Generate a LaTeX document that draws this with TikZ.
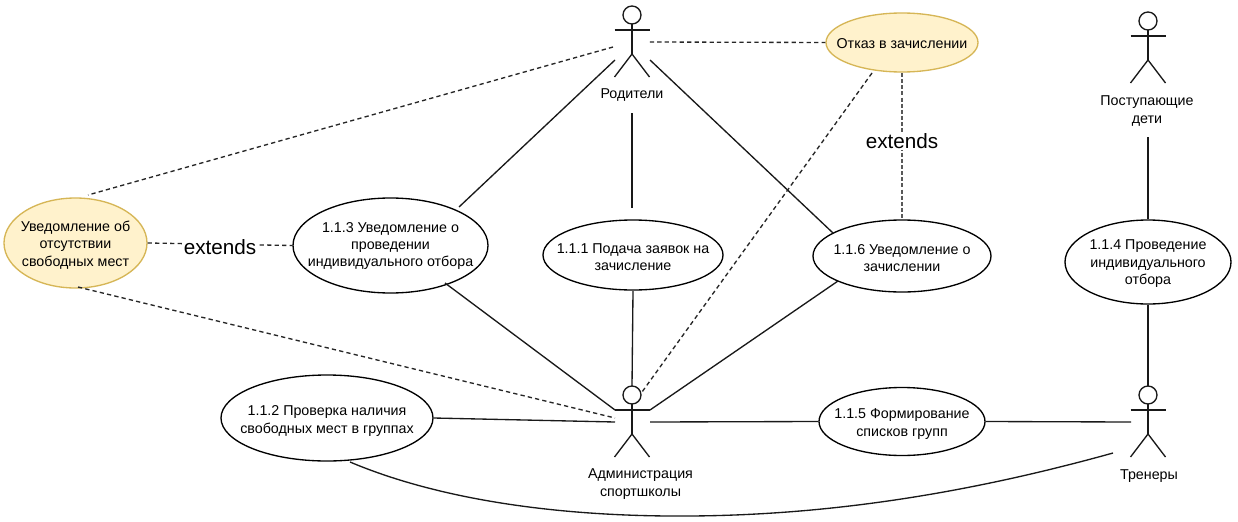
\documentclass[tikz,border=0pt]{standalone}
\usepackage{fontspec}
\setmainfont{Liberation Sans}
\usetikzlibrary{shapes.geometric}
\definecolor{ufill}{HTML}{FFF2CC}
\definecolor{uedge}{HTML}{D6B656}
\newcommand{\actor}[3]{% name, x, y of head centre
  \node[actorbox] (#1) at (#2,#3+27) {};
  \draw[ln] (#2,#3) circle[radius=9];
  \draw[ln] (#2,#3+9) -- (#2,#3+39);
  \draw[ln] (#2-17.5,#3+15) -- (#2+17.5,#3+15);
  \draw[ln] (#2-17.5,#3+62) -- (#2,#3+39) -- (#2+17.5,#3+62);
}
\tikzset{
  ln/.style={line width=1pt,black!90},
  dsh/.style={line width=1.0pt,black!85,dash pattern=on 3.2pt off 2.4pt},
  dshv/.style={line width=1.1pt,black!65,dash pattern=on 3pt off 1.6pt},
  actorbox/.style={draw=none,inner sep=0pt,minimum width=26.25pt,minimum height=53.25pt},
  lbl/.style={align=center,inner sep=0pt,font=\fontsize{10.7pt}{12.9pt}\selectfont},
  uc/.style={ellipse,draw,line width=1pt,inner sep=0pt},
  ucy/.style={uc,draw=uedge,fill=ufill},
  ext/.style={fill=white,text=black,inner sep=1pt,font=\fontsize{15.5pt}{18pt}\selectfont},
}
\begin{document}
\begin{tikzpicture}[x=0.75pt,y=-0.75pt]
\useasboundingbox[fill=white] (0,0) rectangle (1238,521);

\actor{par}{632}{15}
\actor{adm}{632}{395}
\actor{kid}{1148}{21}
\actor{tr}{1148}{395}

\node[lbl] (parL) at (632,95) {Родители};
\node[lbl] (admL) at (640.5,484) {Администрация\\спортшколы};
\node[lbl] (kidL) at (1147,111) {Поступающие\\дети};
\node[lbl] (trL) at (1149,476) {Тренеры};

\node[uc,minimum width=146.25pt,minimum height=71.25pt,label={[lbl,yshift=-0.4pt]center:1.1.3 Уведомление о\\проведении\\индивидуального отбора}] (u113) at (390.5,245.5) {};
\node[uc,minimum width=135pt,minimum height=52.5pt,label={[lbl,yshift=-1.9pt]center:1.1.1 Подача заявок на\\зачисление}] (u111) at (633,255) {};
\node[uc,minimum width=133.5pt,minimum height=54pt,label={[lbl,yshift=-1.5pt]center:1.1.6 Уведомление о\\зачислении}] (u116) at (902,256) {};
\node[uc,minimum width=124.5pt,minimum height=63pt,label={[lbl,yshift=-1.2pt]center:1.1.4 Проведение\\индивидуального\\отбора}] (u114) at (1148,262) {};
\node[uc,minimum width=159pt,minimum height=64.5pt,label={[lbl,yshift=-2.3pt]center:1.1.2 Проверка наличия\\свободных мест в группах}] (u112) at (327,418) {};
\node[uc,minimum width=124.5pt,minimum height=51pt,label={[lbl,yshift=-1.9pt]center:1.1.5 Формирование\\списков групп}] (u115) at (902,421.5) {};
\node[ucy,minimum width=114pt,minimum height=44.25pt,label={[lbl,yshift=-0.8pt]center:Отказ в зачислении}] (otk) at (902,42.5) {};
\node[ucy,minimum width=107.25pt,minimum height=67.5pt,label={[lbl,yshift=-1.5pt]center:Уведомление об\\отсутствии\\свободных мест}] (unv) at (75.5,243) {};

% named free ends
\coordinate (parSW) at (615,60);
\coordinate (parSE) at (650,60);
\coordinate (parW) at (613,47);
\coordinate (parB) at (632,113);
\coordinate (admAL) at (615,410);
\coordinate (admAR) at (650,410);
\coordinate (admT) at (632,386);
\coordinate (admH) at (642,392);
\coordinate (admW) at (615,418);
\coordinate (admL1) at (615,422);
\coordinate (admR1) at (650,422);
\coordinate (trL1) at (1131,422);
\coordinate (trT) at (1148,386);
\coordinate (trC) at (1113,453);
\coordinate (kidB) at (1148,137);
\coordinate (otkB) at (872,73);
\coordinate (otkV) at (902,73);
\coordinate (u113TR) at (459,207);
\coordinate (u113BR) at (445,283);
\coordinate (u111T) at (632,208);
\coordinate (u111B) at (633,291);
\coordinate (u116TL) at (833,233);
\coordinate (u116BL) at (838,281);
\coordinate (u112B) at (350,462);
\coordinate (unvT) at (88,195);
\coordinate (unvB) at (78,287);

% solid associations
\draw[ln] (parSW) -- (u113TR);
\draw[ln] (parB) -- (u111T);
\draw[ln] (parSE) -- (u116TL);
\draw[ln] (u113BR) -- (admAL);
\draw[ln] (u111B) -- (admT);
\draw[ln] (u116BL) -- (admAR);
\draw[ln] (u112.east) -- (admL1);
\draw[ln] (admR1) -- (u115.west);
\draw[ln] (u115.east) -- (trL1);
\draw[ln] (kidB) -- (u114.north);
\draw[ln] (u114.south) -- (trT);
\draw[ln] (u112B) .. controls (440,500) and (560,517) .. (690,516) .. controls (840,515) and (980,490) .. (trC);

% dashed associations
\draw[dsh] (par.east) -- (otk.west);
\draw[dsh] (parW) -- (unvT);
\draw[dsh] (unvB) -- (admW);
\draw[dsh] (otkB) -- (admH);
\draw[dshv] (otkV) -- node[ext,pos=0.465] {extends} (u116.north);
\draw[dsh] (unv.east) -- node[ext,pos=0.5,yshift=-2pt] {extends} (u113.west);
\end{tikzpicture}
\end{document}
